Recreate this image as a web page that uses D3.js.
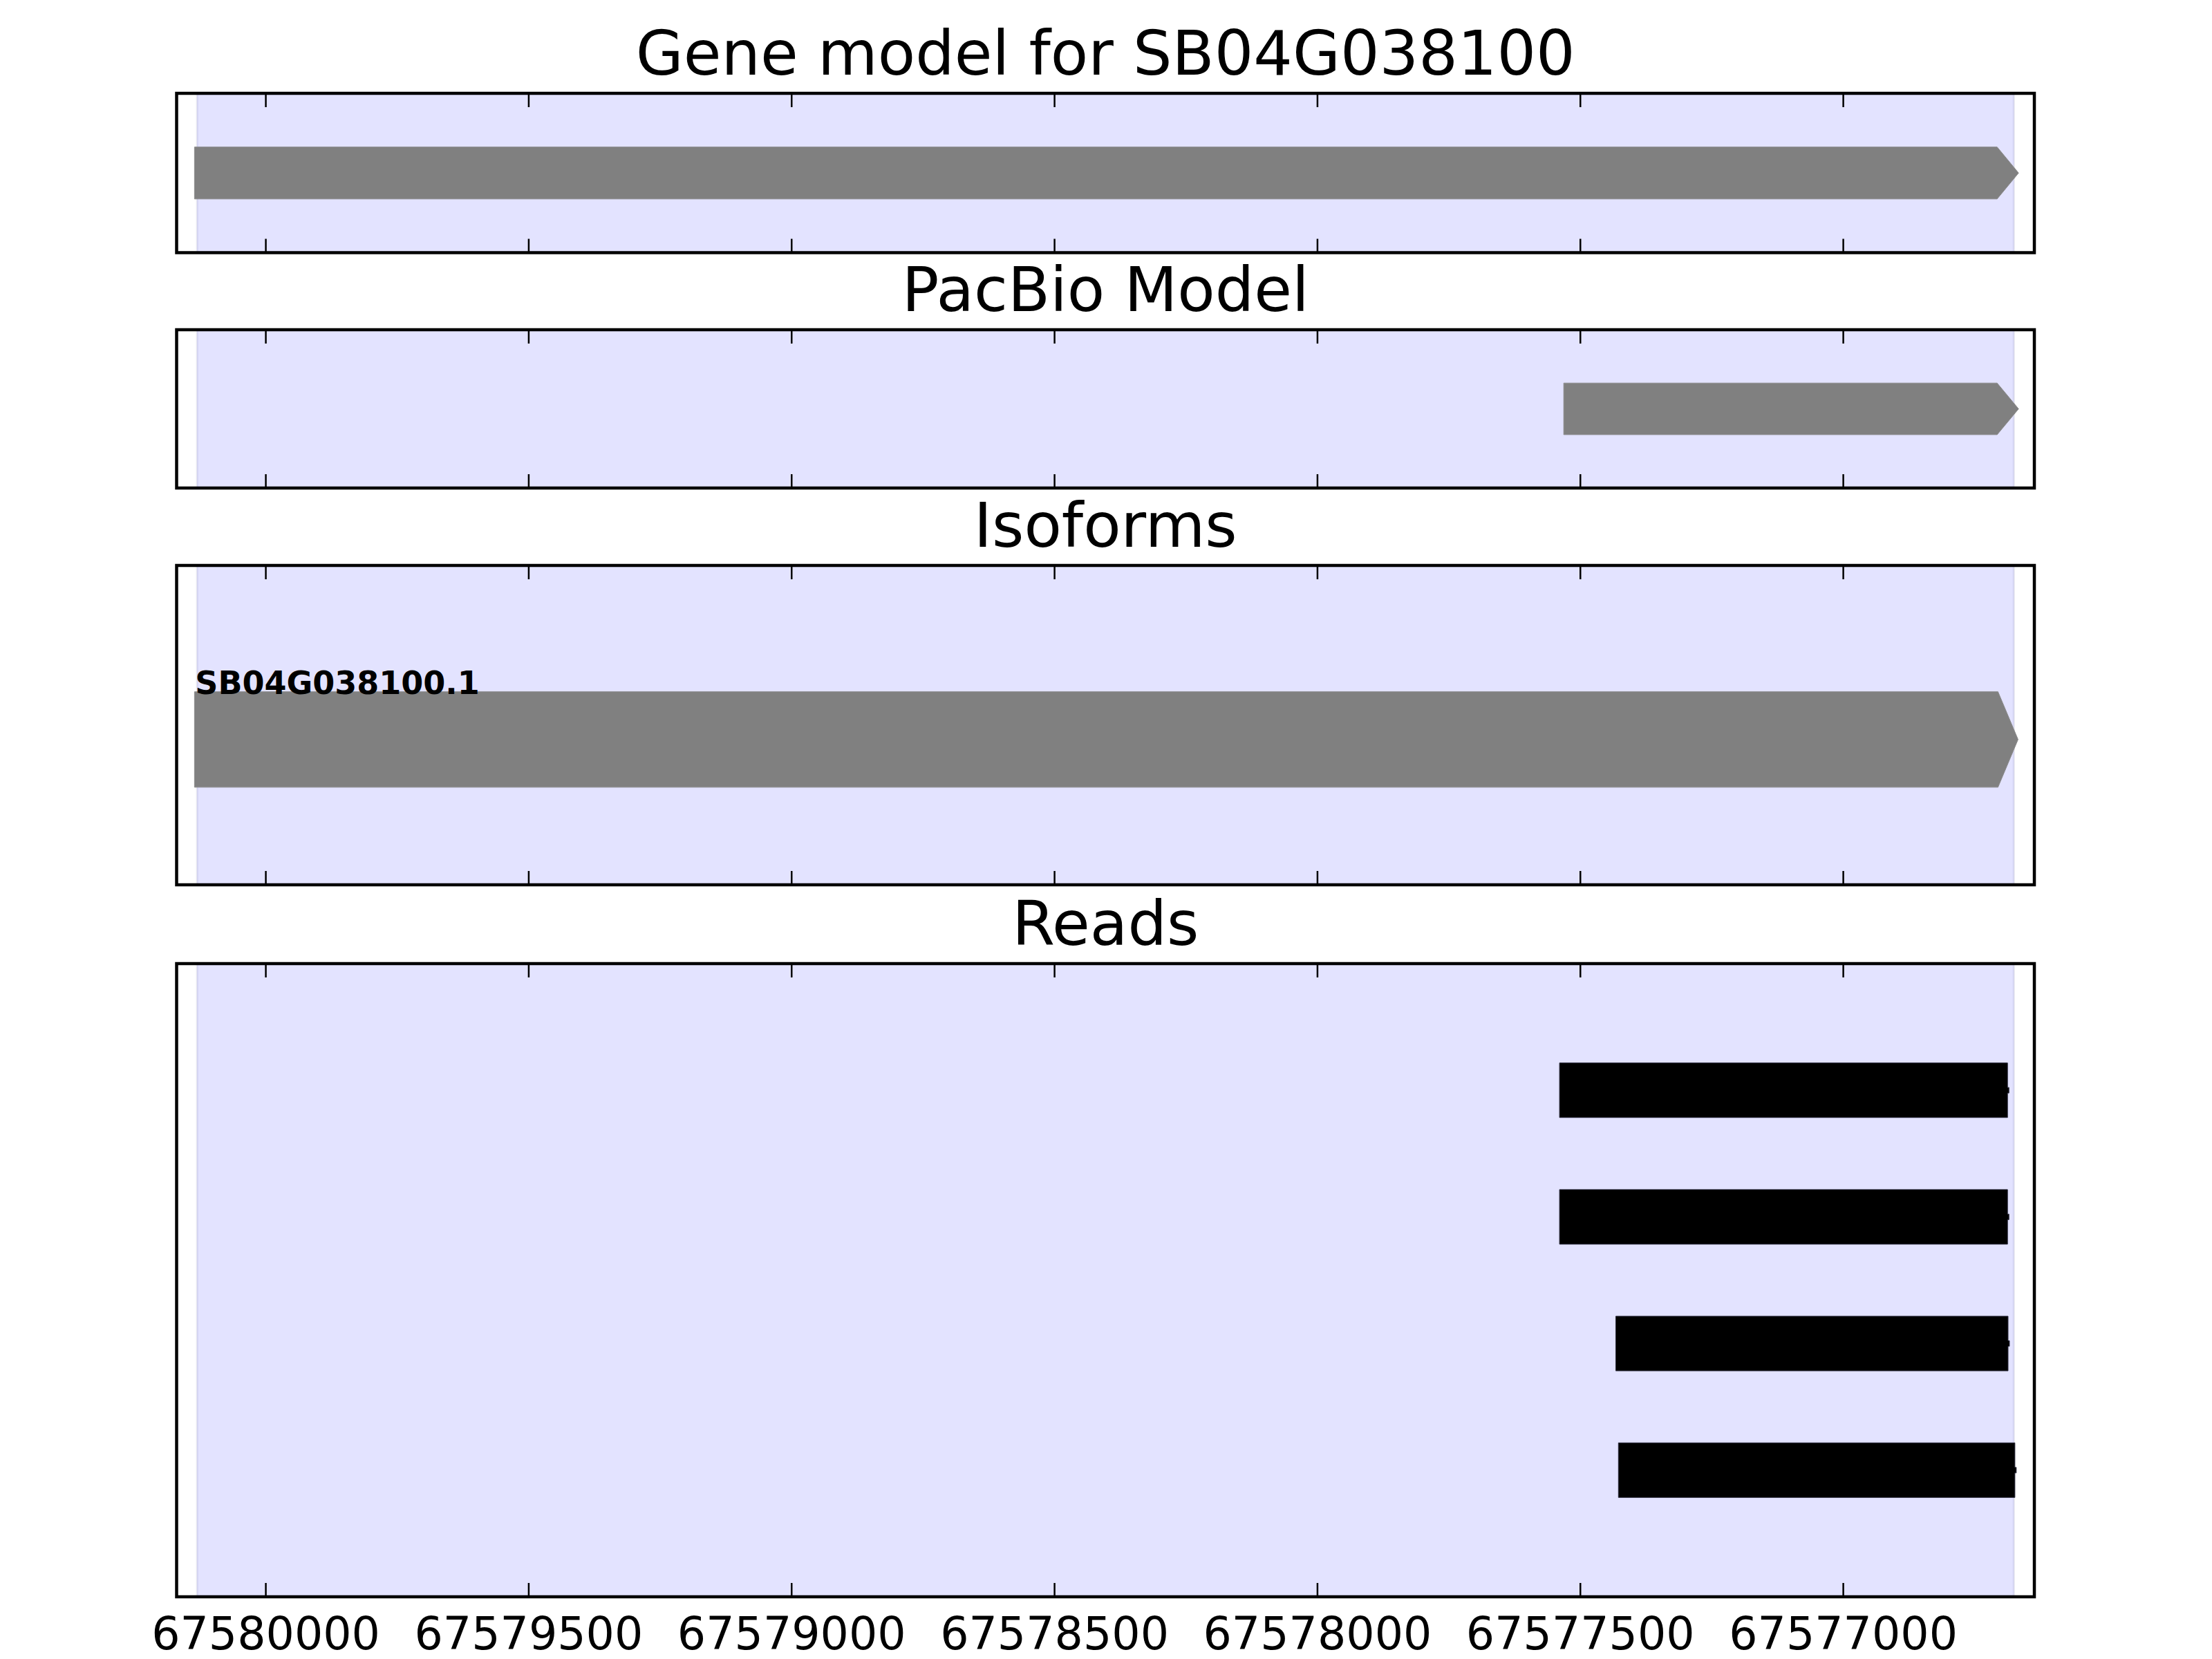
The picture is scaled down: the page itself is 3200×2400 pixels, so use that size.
<!DOCTYPE html>
<html>
<head>
<meta charset="utf-8">
<script src="https://cdn.jsdelivr.net/npm/d3@7"></script>
<style>
  html, body { margin: 0; padding: 0; background: #ffffff; }
  svg { display: block; }
</style>
</head>
<body>
<svg id="chart" width="3200" height="2400"></svg>
<script>
// ---------------- DATA ----------------
const panelTitles = ["Gene model for SB04G038100", "PacBio Model", "Isoforms", "Reads"];
const xDomain = [67580169, 67576636];          // reversed genomic axis (minus strand)
const tickValues = [67580000, 67579500, 67579000, 67578500, 67578000, 67577500, 67577000];
const shadeRange = [67580130, 67576675];

// gene model (start, end incl. arrow tip)
const geneModel = [{ start: 67580135, end: 67576666 }];
// PacBio model
const pacbioModel = [{ start: 67577531, end: 67576666 }];
// isoforms
const isoformNames = ["SB04G038100.1"];
const isoformStarts = [67580135];
const isoformEnds = [67576667];
// reads (row index, start, end)
const readRows = [1, 2, 3, 4];
const readStarts = [67577539, 67577539, 67577432, 67577427];
const readEnds = [67576687, 67576687, 67576686, 67576673];

// ---------------- LAYOUT ----------------
const svg = d3.select("#chart");
const left = 255.5, right = 2943;
const panels = [
  { top: 135, bottom: 365.5 },
  { top: 477, bottom: 706 },
  { top: 818, bottom: 1280 },
  { top: 1394, bottom: 2310 }
];
const x = d3.scaleLinear().domain(xDomain).range([left, right]);
const titleFont = "DejaVu Sans, sans-serif";

function drawPanel(i) {
  const p = panels[i];
  const g = svg.append("g");
  const clipId = "clip" + i;
  svg.append("clipPath").attr("id", clipId)
    .append("rect").attr("x", left).attr("y", p.top)
    .attr("width", right - left).attr("height", p.bottom - p.top);
  const inner = g.append("g").attr("clip-path", `url(#${clipId})`);
  inner.append("rect")
    .attr("x", x(shadeRange[0])).attr("y", p.top)
    .attr("width", x(shadeRange[1]) - x(shadeRange[0]))
    .attr("height", p.bottom - p.top)
    .attr("fill", "#e3e3ff")
    .attr("stroke", "rgba(120,120,170,0.18)")
    .attr("stroke-width", 3);
  g.append("text")
    .attr("x", (left + right) / 2).attr("y", p.top - 27)
    .attr("text-anchor", "middle")
    .attr("font-family", titleFont).attr("font-size", 89)
    .attr("fill", "#000").text(panelTitles[i]);
  return { g, inner, p };
}

function arrowPath(x0, x1, yc, h, head) {
  const xb = x1 - head;
  return `M${x0},${yc - h / 2}L${xb},${yc - h / 2}L${x1},${yc}L${xb},${yc + h / 2}L${x0},${yc + h / 2}Z`;
}

function drawFrame(ctx, withLabels) {
  const { g, p } = ctx;
  const axB = d3.axisBottom(x).tickValues(tickValues).tickSize(-20)
    .tickPadding(30).tickFormat(withLabels ? d3.format("d") : () => "");
  const axT = d3.axisTop(x).tickValues(tickValues).tickSize(-20).tickFormat(() => "");
  const gb = g.append("g").attr("transform", `translate(0,${p.bottom})`).call(axB);
  const gt = g.append("g").attr("transform", `translate(0,${p.top})`).call(axT);
  [gb, gt].forEach(a => {
    a.select(".domain").remove();
    a.selectAll(".tick line").attr("stroke", "#000").attr("stroke-width", 2.5);
  });
  gb.selectAll(".tick text").attr("font-family", titleFont).attr("font-size", 65).attr("fill", "#000");
  g.append("rect")
    .attr("x", left).attr("y", p.top)
    .attr("width", right - left).attr("height", p.bottom - p.top)
    .attr("fill", "none").attr("stroke", "#000").attr("stroke-width", 4.5);
}

// Panel 1: gene model
{
  const ctx = drawPanel(0);
  const y = d3.scaleLinear().domain([0, 1]).range([ctx.p.bottom, ctx.p.top]);
  const h = (y(0) - y(0.326));
  ctx.inner.selectAll("path.gene").data(geneModel).join("path")
    .attr("d", d => arrowPath(x(d.start), x(d.end), y(0.5), h, 31))
    .attr("fill", "#808080").attr("stroke", "#8a8a8a").attr("stroke-width", 1);
  drawFrame(ctx, false);
}
// Panel 2: PacBio
{
  const ctx = drawPanel(1);
  const y = d3.scaleLinear().domain([0, 1]).range([ctx.p.bottom, ctx.p.top]);
  const h = (y(0) - y(0.326));
  ctx.inner.selectAll("path.pb").data(pacbioModel).join("path")
    .attr("d", d => arrowPath(x(d.start), x(d.end), y(0.5), h, 31))
    .attr("fill", "#808080").attr("stroke", "#8a8a8a").attr("stroke-width", 1);
  drawFrame(ctx, false);
}
// Panel 3: isoforms
{
  const ctx = drawPanel(2);
  const y = d3.scaleLinear().domain([0, 1]).range([ctx.p.bottom, ctx.p.top]);
  const h = (y(0) - y(0.299));
  const iso = isoformNames.map((n, i) => ({ name: n, start: isoformStarts[i], end: isoformEnds[i] }));
  ctx.inner.selectAll("path.iso").data(iso).join("path")
    .attr("d", d => arrowPath(x(d.start), x(d.end), y(0.455), h, 29))
    .attr("fill", "#808080").attr("stroke", "#8a8a8a").attr("stroke-width", 1);
  ctx.g.selectAll("text.iso").data(iso).join("text")
    .attr("x", d => x(d.start) + 1).attr("y", y(0.455) - h / 2 + 3)
    .attr("font-family", titleFont).attr("font-weight", "bold").attr("font-size", 46)
    .attr("fill", "#000").text(d => d.name);
  drawFrame(ctx, false);
}
// Panel 4: reads
{
  const ctx = drawPanel(3);
  const y = d3.scaleLinear().domain([0, 5]).range([ctx.p.top, ctx.p.bottom]);
  const h = 79;
  const reads = readRows.map((r, i) => ({ row: r, start: readStarts[i], end: readEnds[i] }));
  ctx.inner.selectAll("path.read").data(reads).join("path")
    .attr("d", d => {
      const x0 = x(d.start), x1 = x(d.end), yc = y(d.row);
      return `M${x0},${yc - h / 2}L${x1},${yc - h / 2}L${x1},${yc - 4}L${x1 + 2},${yc - 4}L${x1 + 2},${yc + 4}L${x1},${yc + 4}L${x1},${yc + h / 2}L${x0},${yc + h / 2}Z`;
    })
    .attr("fill", "#000").attr("stroke", "#2a2a3a").attr("stroke-width", 1);
  drawFrame(ctx, true);
}
</script>
</body>
</html>
